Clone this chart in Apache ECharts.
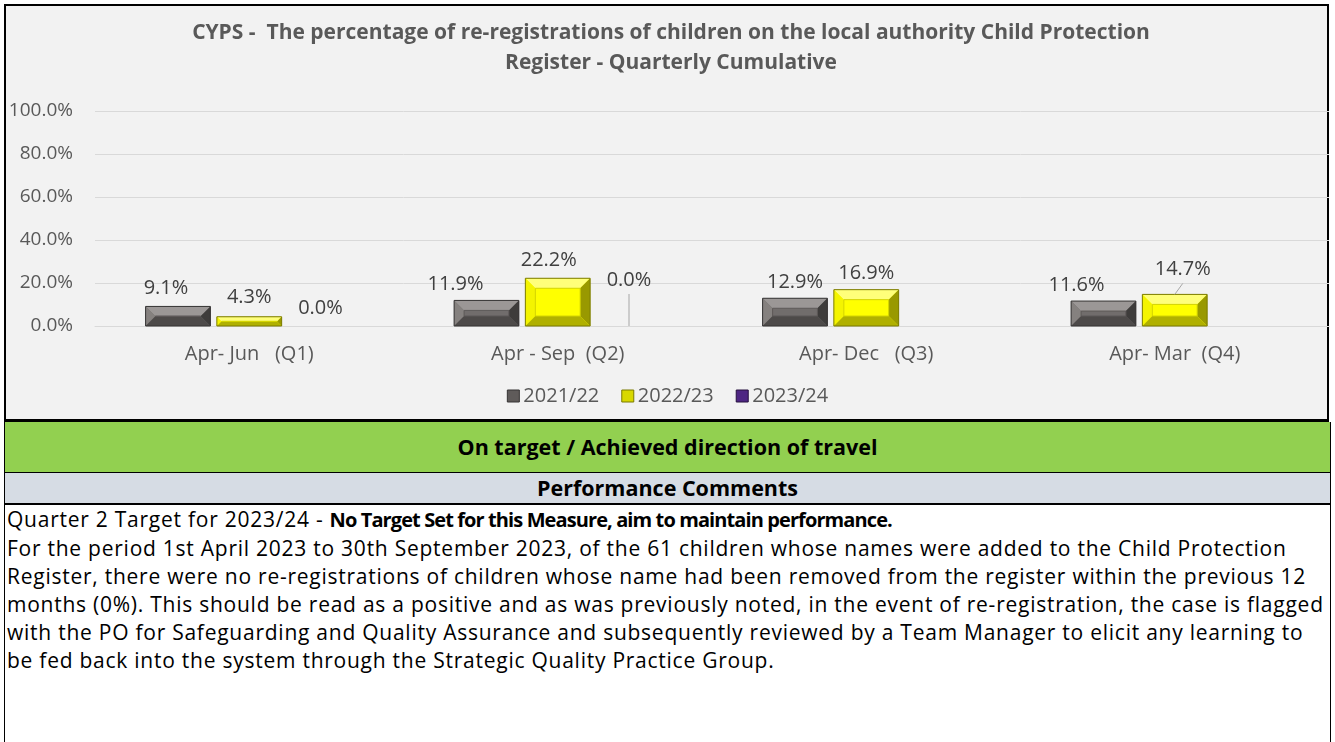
<!DOCTYPE html>
<html>
<head>
<meta charset="utf-8">
<title>CYPS re-registrations</title>
<script src="https://cdn.jsdelivr.net/npm/echarts@6/dist/echarts.min.js"></script>
<style>
  body {
    margin: 0;
    width: 1335px;
    height: 742px;
    overflow: hidden;
    background: #fff;
    font-family: "Open Sans", sans-serif;
    position: relative;
  }
  .frame {
    position: absolute;
    left: 4px; top: 4px;
    width: 1325px; height: 418px;
    box-sizing: border-box;
    border: 2px solid #000;
    border-bottom-width: 3px;
    background: #f2f2f2;
  }
  #chart {
    position: absolute;
    left: 0; top: 0;
    width: 1335px; height: 420px;
  }
  .status {
    position: absolute;
    left: 4px; top: 422px;
    width: 1327px; height: 51px;
    box-sizing: border-box;
    background: #92d050;
    border-left: 1px solid #000;
    border-right: 1px solid #000;
    border-bottom: 1px solid #000;
    font-weight: bold;
    font-size: 21.5px;
    text-align: center;
    line-height: 50px;
    color: #000;
  }
  .heading {
    position: absolute;
    left: 4px; top: 473px;
    width: 1327px; height: 32px;
    box-sizing: border-box;
    background: #d6dce4;
    border-left: 1px solid #000;
    border-right: 1px solid #000;
    border-bottom: 2px solid #000;
    font-weight: bold;
    font-size: 21.5px;
    text-align: center;
    line-height: 30px;
  }
  .comments {
    position: absolute;
    left: 4px; top: 505px;
    width: 1327px; height: 240px;
    box-sizing: border-box;
    border-left: 1px solid #000;
    border-right: 1px solid #000;
    padding-left: 2px;
    font-size: 21px;
    letter-spacing: 0.75px;
    line-height: 28px;
    color: #000;
  }
  .comments div { white-space: nowrap; }
  .comments b { font-size: 20px; letter-spacing: -0.9px; }
</style>
</head>
<body>
<div class="frame"></div>
<div id="chart"></div>
<div class="status">On target / Achieved direction of travel</div>
<div class="heading">Performance Comments</div>
<div class="comments">
  <div>Quarter 2 Target for 2023/24 - <b>No Target Set for this Measure, aim to maintain performance.</b></div>
  <div>For the period 1st April 2023 to 30th September 2023, of the 61 children whose names were added to the Child Protection</div>
  <div>Register, there were no re-registrations of children whose name had been removed from the register within the previous 12</div>
  <div>months (0%). This should be read as a positive and as was previously noted, in the event of re-registration, the case is flagged</div>
  <div>with the PO for Safeguarding and Quality Assurance and subsequently reviewed by a Team Manager to elicit any learning to</div>
  <div>be fed back into the system through the Strategic Quality Practice Group.</div>
</div>

<script>
const quarters = ['Apr- Jun   (Q1)', 'Apr - Sep  (Q2)', 'Apr- Dec   (Q3)', 'Apr- Mar  (Q4)']
const years = ['2021/22', '2022/23', '2023/24']
const values2122 = [9.1, 11.9, 12.9, 11.6]
const values2223 = [4.3, 22.2, 16.9, 14.7]
const values2324 = [0.0, 0.0, null, null]
const yTicks = [0, 20, 40, 60, 80, 100]

// bevel colours per year
const palettes = [
  { face: '#716d6c', top: '#9b9796', left: '#85817f', right: '#3e3c3b', bottom: '#4d4a49', line: '#363434', inner: '#5d5958', legend: '#5f5b5a' },
  { face: '#ffff00', top: '#ffff7a', left: '#f4f400', right: '#999900', bottom: '#b0b000', line: '#7a7a00', inner: '#d4d400', legend: '#d8d800' },
  { face: '#5b2d90', top: '#7c53ad', left: '#6a3aa0', right: '#2e144e', bottom: '#3b1c62', line: '#26103f', inner: '#4b2478', legend: '#4e2683' }
]

// where Excel placed each data label, relative to the default spot above the bar: [dx, dy]
const labelNudge = {
  0: { 0: [-12, -2], 1: [-31, 0], 3: [-27, 0] },
  1: { 0: [0, -3], 1: [-9, -2], 3: [8, -9] },
  2: { 0: [0, -2], 1: [0, -30] }
}
// labels that carry a leader line back to their bar
const leaderLines = ['1-3', '2-1']

const chart = echarts.init(document.getElementById('chart'))

function bevelBar(params, api) {
  const s = params.seriesIndex
  const pal = palettes[s]
  const cat = api.value(0)
  const v = api.value(1)
  const band = api.size([1, 0])[0]
  const w = band * 0.21
  const step = w * 1.1
  const base = api.coord([cat, 0])
  const top = api.coord([cat, v])
  const cx = base[0] + (s - 1) * step
  const x = cx - w / 2
  const y = top[1]
  const h = base[1] - top[1]
  const b = Math.min(10, h / 2, w / 2)
  const children = []

  if (h > 0.5) {
    children.push({ type: 'rect', shape: { x, y, width: w, height: h }, style: { fill: pal.face } })
    children.push({ type: 'polygon', shape: { points: [[x, y], [x + w, y], [x + w - b, y + b], [x + b, y + b]] }, style: { fill: pal.top } })
    children.push({ type: 'polygon', shape: { points: [[x, y], [x + b, y + b], [x + b, y + h - b], [x, y + h]] }, style: { fill: pal.left } })
    children.push({ type: 'polygon', shape: { points: [[x + w, y], [x + w, y + h], [x + w - b, y + h - b], [x + w - b, y + b]] }, style: { fill: pal.right } })
    children.push({ type: 'polygon', shape: { points: [[x, y + h], [x + w, y + h], [x + w - b, y + h - b], [x + b, y + h - b]] }, style: { fill: pal.bottom } })
    if (h > 6) {
      children.push({ type: 'rect', shape: { x: x + b, y: y + b, width: w - 2 * b, height: h - 2 * b }, style: { fill: 'none', stroke: pal.inner, lineWidth: 1 } })
    }
    children.push({ type: 'rect', shape: { x, y, width: w, height: h }, style: { fill: 'none', stroke: pal.line, lineWidth: 1 } })
  }

  const nudge = (labelNudge[s] && labelNudge[s][cat]) || [0, 0]
  const lx = cx + nudge[0]
  const ly = y - 16 + nudge[1]
  if (leaderLines.indexOf(s + '-' + cat) >= 0) {
    children.push({ type: 'line', shape: { x1: cx, y1: y, x2: lx, y2: ly + 14 }, style: { stroke: '#a6a6a6', lineWidth: 1 } })
  }
  children.push({
    type: 'text',
    style: {
      text: v.toFixed(1) + '%',
      x: lx, y: ly,
      align: 'center', verticalAlign: 'middle',
      fill: '#404040',
      font: '20px "Open Sans", sans-serif'
    }
  })
  return { type: 'group', children }
}

function toPoints(arr) {
  return arr.map((v, i) => [i, v]).filter(p => p[1] !== null)
}

const seriesValues = [values2122, values2223, values2324]

chart.setOption({
  animation: false,
  title: {
    text: 'CYPS -  The percentage of re-registrations of children on the local authority Child Protection\nRegister - Quarterly Cumulative',
    left: 671,
    top: 18,
    padding: 0,
    textAlign: 'center',
    textStyle: {
      fontFamily: 'Open Sans',
      fontWeight: 'bold',
      fontSize: 21,
      lineHeight: 30,
      color: '#595959'
    }
  },
  legend: {
    top: 386,
    left: 'center',
    icon: 'rect',
    itemWidth: 12,
    itemHeight: 12,
    itemGap: 22,
    padding: 0,
    textStyle: { fontFamily: 'Open Sans', fontSize: 20, color: '#595959', padding: [0, 0, 0, -1] },
    data: years.map((name, i) => ({
      name,
      itemStyle: { color: palettes[i].legend, borderColor: palettes[i].line, borderWidth: 1 }
    }))
  },
  grid: { left: 95, right: 6, top: 111, bottom: 94 },
  xAxis: {
    type: 'category',
    data: quarters,
    axisLine: { lineStyle: { color: '#d9d9d9' } },
    axisTick: { show: false },
    axisLabel: { margin: 18, fontFamily: 'Open Sans', fontSize: 20, color: '#595959' }
  },
  yAxis: {
    type: 'value',
    min: yTicks[0],
    max: yTicks[yTicks.length - 1],
    interval: yTicks[1] - yTicks[0],
    axisLine: { show: false },
    axisTick: { show: false },
    splitLine: { lineStyle: { color: '#d9d9d9' } },
    axisLabel: {
      margin: 22,
      fontFamily: 'Open Sans',
      fontSize: 19,
      color: '#595959',
      formatter: v => v.toFixed(1) + '%'
    }
  },
  series: years.map((name, i) => ({
    name,
    type: 'custom',
    coordinateSystem: 'cartesian2d',
    renderItem: bevelBar,
    encode: { x: 0, y: 1 },
    itemStyle: { color: palettes[i].legend },
    data: toPoints(seriesValues[i])
  }))
})
</script>
</body>
</html>
